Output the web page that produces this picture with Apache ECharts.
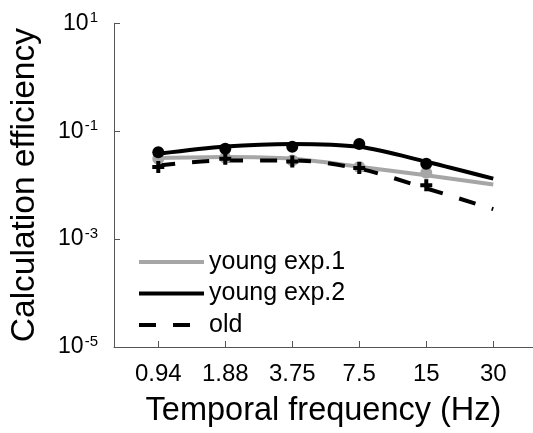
<!DOCTYPE html>
<html>
<head>
<meta charset="utf-8">
<script src="https://cdn.jsdelivr.net/npm/echarts@6/dist/echarts.min.js"></script>
<style>
  html, body { margin: 0; padding: 0; background: #fff; }
  #chart { width: 533px; height: 433px; }
</style>
</head>
<body>
<div id="chart"></div>
<script>
// tick labels on the frequency axis (log2 spaced, one step each)
const freqLabels = ['0.94', '1.88', '3.75', '7.5', '15', '30'];
const freqIndex = [0, 1, 2, 3, 4, 5];
const yTicks = [1e-5, 1e-3, 1e-1, 1e1];

// fitted curves
const fitYoung1 = [0.0318, 0.0332, 0.0308, 0.0220, 0.0152, 0.0103];
const fitYoung2 = [0.0381, 0.0519, 0.0582, 0.0513, 0.0272, 0.0132];
const fitOld = [0.0232, 0.0287, 0.0287, 0.0202, 0.0087, 0.0036];

// measured points (no point at 30 Hz)
const dataYoung1 = [0.0308, 0.0322, 0.0287, 0.0217, 0.0169];
const dataYoung2 = [0.0409, 0.0471, 0.0513, 0.0582, 0.0249];
const dataOld = [0.0217, 0.0308, 0.0275, 0.0208, 0.0100];

const FONT = 'Liberation Sans';
const GREY = '#a6a6a6';
const PLUS = 'path://M4,0h4v4h4v4h-4v4h-4v-4h-4v-4h4z';

function pairs(vals) {
    return vals.map(function (v, i) { return [freqIndex[i], v]; });
}

let chart = echarts.init(document.getElementById('chart'));

const option = {
    animation: false,
    backgroundColor: '#fff',
    textStyle: { fontFamily: FONT, color: '#000' },
    grid: { left: 114, top: 23.3, right: 0, bottom: 83, containLabel: false },
    legend: {
        orient: 'vertical',
        left: 137,
        top: 249.5,
        padding: 0,
        itemWidth: 65,
        itemHeight: 6,
        itemGap: 6.5,
        data: ['young exp.1', 'young exp.2', 'old'],
        textStyle: { fontFamily: FONT, fontSize: 25, color: '#000' },
        lineStyle: { width: 4 },
        itemStyle: { opacity: 0 },
    },
    xAxis: {
        type: 'value',
        min: -0.661,
        max: 5.593,
        splitLine: { show: false },
        axisLine: { onZero: false, lineStyle: { color: '#555', width: 1 } },
        axisTick: { inside: true, length: 6, lineStyle: { color: '#555' }, customValues: freqIndex },
        axisLabel: {
            customValues: freqIndex,
            margin: 15,
            fontSize: 24,
            color: '#000',
            fontFamily: FONT,
            formatter: function (v) { return freqLabels[Math.round(v)]; },
        },
        name: 'Temporal frequency (Hz)',
        nameLocation: 'middle',
        nameGap: 48,
        nameTextStyle: { fontSize: 32.5, color: '#000', fontFamily: FONT },
    },
    yAxis: {
        type: 'log',
        logBase: 10,
        min: 1e-5,
        max: 10,
        splitLine: { show: false },
        axisLine: { show: true, onZero: false, lineStyle: { color: '#555', width: 1 } },
        axisTick: { show: true, inside: true, length: 6, lineStyle: { color: '#555' }, customValues: yTicks },
        axisLabel: {
            customValues: yTicks,
            margin: 16,
            color: '#000',
            fontFamily: FONT,
            formatter: function (v) {
                const e = Math.round(Math.log10(v));
                return '{b|10}{s|' + e + '}';
            },
            rich: {
                b: { fontSize: 23, fontFamily: FONT, color: '#000' },
                s: { fontSize: 15, fontFamily: FONT, color: '#000', verticalAlign: 'top', padding: [0, 0, 10, 1] },
            },
        },
        name: 'Calculation efficiency',
        nameLocation: 'middle',
        nameGap: 72,
        nameRotate: 90,
        nameTextStyle: { fontSize: 33.5, color: '#000', fontFamily: FONT },
    },
    series: [
        {
            name: 'young exp.1', type: 'line', data: pairs(fitYoung1), smooth: 0.3,
            symbol: 'none', color: GREY, lineStyle: { color: GREY, width: 4 }, z: 2,
        },
        {
            name: 'young exp.2', type: 'line', data: pairs(fitYoung2), smooth: 0.3,
            symbol: 'none', color: '#000', lineStyle: { color: '#000', width: 4 }, z: 3,
        },
        {
            name: 'old', type: 'line', data: pairs(fitOld), smooth: 0.3,
            symbol: 'none', color: '#000', lineStyle: { color: '#000', width: 4, type: [17, 17] }, z: 3,
        },
        {
            name: 'pts young exp.1', type: 'scatter', data: pairs(dataYoung1),
            symbol: 'circle', symbolSize: 12, itemStyle: { color: GREY, opacity: 1 }, z: 4,
        },
        {
            name: 'pts old', type: 'scatter', data: pairs(dataOld),
            symbol: PLUS, symbolSize: 12, itemStyle: { color: '#000', opacity: 1 }, z: 5,
        },
        {
            name: 'pts young exp.2', type: 'scatter', data: pairs(dataYoung2),
            symbol: 'circle', symbolSize: 12, itemStyle: { color: '#000', opacity: 1 }, z: 6,
        },
    ],
};

chart.setOption(option);
</script>
</body>
</html>
